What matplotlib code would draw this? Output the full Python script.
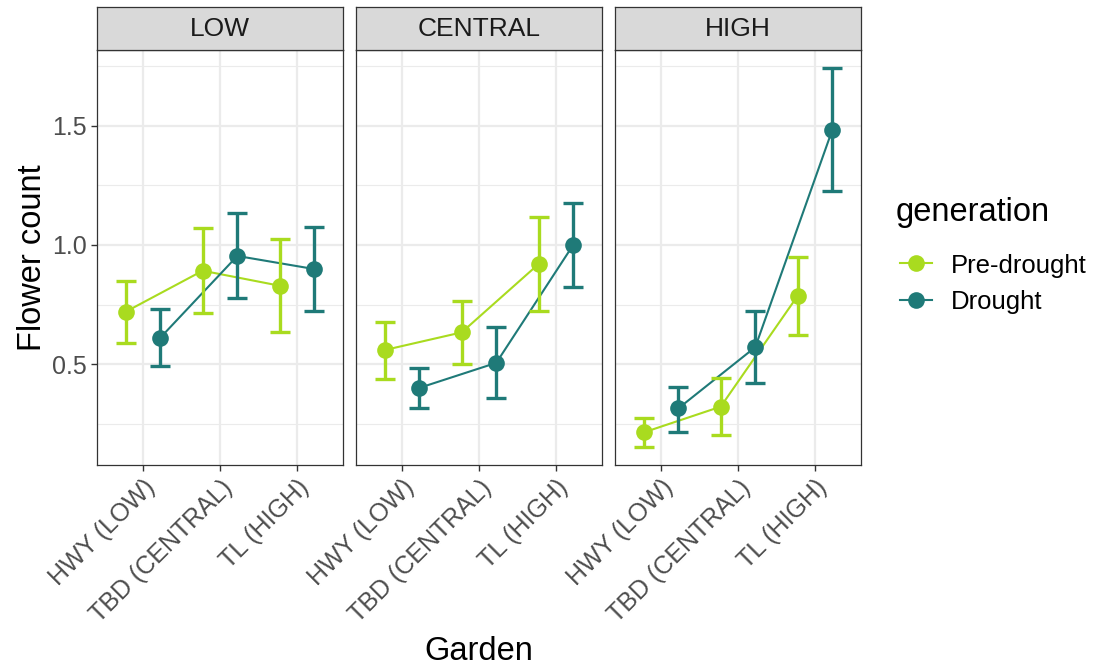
import matplotlib
matplotlib.use("Agg")
import matplotlib.pyplot as plt
from matplotlib.lines import Line2D
import numpy as np

plt.rcParams['font.family'] = ['Liberation Sans', 'DejaVu Sans']

# Panels (source region) and gardens on the x axis
regions = ["LOW", "CENTRAL", "HIGH"]
gardens = ["HWY (LOW)", "TBD (CENTRAL)", "TL (HIGH)"]
generations = ["Pre-drought", "Drought"]

# Mean flower counts with lower / upper error bounds, per panel (rows) and garden (cols)
pre_mean = [[0.72, 0.892, 0.829],
            [0.559, 0.633, 0.920],
            [0.213, 0.321, 0.786]]
pre_lo = [[0.589, 0.716, 0.636],
          [0.438, 0.500, 0.723],
          [0.152, 0.203, 0.622]]
pre_hi = [[0.849, 1.070, 1.024],
          [0.678, 0.766, 1.116],
          [0.274, 0.440, 0.950]]

dro_mean = [[0.611, 0.954, 0.899],
            [0.400, 0.505, 1.000],
            [0.314, 0.571, 1.482]]
dro_lo = [[0.493, 0.776, 0.721],
          [0.316, 0.358, 0.822],
          [0.216, 0.421, 1.228]]
dro_hi = [[0.731, 1.133, 1.076],
          [0.484, 0.654, 1.178],
          [0.405, 0.723, 1.742]]

colors = {"Pre-drought": "#A9DB1F", "Drought": "#1F7A78"}
series = {
    "Pre-drought": (pre_mean, pre_lo, pre_hi, -0.225),
    "Drought": (dro_mean, dro_lo, dro_hi, 0.225),
}

W, H = 1098, 672
fig = plt.figure(figsize=(W / 100, H / 100), dpi=100)

panel_x = [(97, 343), (356, 602), (615, 861)]
panel_top, panel_bot = 50, 465
strip_top = 7

grid_col = "#EBEBEB"
frame_col = "#333333"
text_col = "#4D4D4D"

xpos = np.arange(1, len(gardens) + 1)
for i, region in enumerate(regions):
    x0, x1 = panel_x[i]
    ax = fig.add_axes([x0 / W, 1 - panel_bot / H, (x1 - x0) / W, (panel_bot - panel_top) / H])
    ax.set_xlim(0.4, 3.6)
    ax.set_ylim(0.076, 1.819)
    ax.set_xticks(xpos)
    ax.set_yticks([0.5, 1.0, 1.5])
    ax.set_yticks([0.25, 0.75, 1.25, 1.75], minor=True)
    ax.grid(True, which="major", color=grid_col, lw=1.6, zorder=0)
    ax.grid(True, which="minor", axis="y", color=grid_col, lw=0.8, zorder=0)
    ax.set_axisbelow(True)
    for s in ax.spines.values():
        s.set_color(frame_col)
        s.set_linewidth(0.9)
    ax.tick_params(axis="both", which="major", length=4, width=1.0, color=frame_col,
                   labelcolor=text_col, labelsize=18)
    ax.tick_params(axis="y", which="minor", length=0)

    for gen in generations:
        mean, lo, hi, off = series[gen]
        c = colors[gen]
        xs = xpos + off
        m = np.array(mean[i])
        lo_a = np.array(lo[i])
        hi_a = np.array(hi[i])
        ax.plot(xs, m, color=c, lw=1.5, zorder=2)
        ax.errorbar(xs, m, yerr=[m - lo_a, hi_a - m], fmt="none", ecolor=c,
                    elinewidth=2.4, capsize=7, capthick=2.4, zorder=3)
        ax.plot(xs, m, "o", color=c, ms=12, mec="none", zorder=4)

    ax.set_xticklabels(gardens, rotation=45, ha="right", va="top",
                       rotation_mode="anchor", fontsize=18, color=text_col)
    if i > 0:
        ax.set_yticklabels([])
        ax.tick_params(axis="y", length=0)

    # facet strip
    sax = fig.add_axes([x0 / W, 1 - panel_top / H, (x1 - x0) / W, (panel_top - strip_top) / H])
    sax.set_facecolor("#D9D9D9")
    sax.set_xticks([])
    sax.set_yticks([])
    for s in sax.spines.values():
        s.set_color(frame_col)
        s.set_linewidth(0.9)
    sax.text(0.5, 0.5, region, ha="center", va="center", fontsize=19,
             color="#1A1A1A", transform=sax.transAxes)

fig.text(33 / W, 1 - 258 / H, "Flower count", rotation=90, ha="center", va="center",
         fontsize=23.5, color="black")
fig.text(479 / W, 1 - 652 / H, "Garden", ha="center", va="center",
         fontsize=23.5, color="black")

# legend for the generation colours
fig.text(896 / W, 1 - 213 / H, "generation", ha="left", va="center",
         fontsize=23.5, color="black")
for k, gen in enumerate(generations):
    yk = 1 - (263 + 37 * k) / H
    fig.add_artist(Line2D([900 / W, 932 / W], [yk, yk], color=colors[gen], lw=1.5,
                          transform=fig.transFigure))
    fig.add_artist(Line2D([916 / W], [yk], marker="o", ms=12, mec="none",
                          color=colors[gen], transform=fig.transFigure))
    fig.text(951 / W, yk, gen, ha="left", va="center_baseline", fontsize=18.5,
             color="black")

fig.savefig("out.png", dpi=100, facecolor="white")
